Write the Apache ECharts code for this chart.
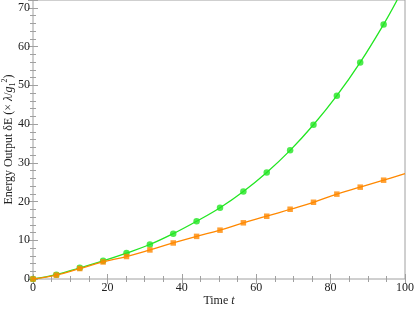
<!DOCTYPE html>
<html><head><meta charset="utf-8">
<script src="https://cdn.jsdelivr.net/npm/echarts@6/dist/echarts.min.js"></script>
<style>html,body{margin:0;padding:0;background:#fff}#c{width:415px;height:310px}</style>
</head><body><div id="c"></div>
<script>
// Data
const tValues = [0, 6.28, 12.57, 18.85, 25.13, 31.42, 37.70, 43.98, 50.27, 56.55, 62.83, 69.12, 75.40, 81.68, 87.96, 94.25];
const greenValues = [0, 1.1, 2.9, 4.7, 6.7, 8.9, 11.7, 14.9, 18.4, 22.6, 27.5, 33.2, 39.8, 47.3, 55.9, 65.7];
const orangeValues = [0, 1.0, 2.7, 4.4, 5.8, 7.5, 9.3, 11.0, 12.6, 14.5, 16.2, 18.0, 19.8, 21.9, 23.7, 25.5];
const greenCurveEnd = [97.9, 72];
const orangeCurveEnd = [100, 27.2];
const xTicks = [0, 20, 40, 60, 80, 100];
const yTicks = [0, 10, 20, 30, 40, 50, 60, 70];

const F = 'Liberation Serif';
const frameColor = '#a0a0a0';
const textColor = '#222';
const green = '#22e622';
const orange = '#ff8800';

const pts = (xs, ys) => xs.map((x, i) => [x, ys[i]]);
const greenPts = pts(tValues, greenValues);
const orangePts = pts(tValues, orangeValues);

function axisBase(min, max, interval, position, tickLen) {
  return {
    type: 'value', min: min, max: max, interval: interval, position: position,
    axisLine: { show: false },
    axisTick: { show: true, inside: true, length: tickLen, lineStyle: { color: frameColor, width: 1 } },
    axisLabel: { show: false },
    splitLine: { show: false }
  };
}

const xMain = axisBase(0, 100, 20, 'bottom', 5);
xMain.axisLabel = { show: true, margin: 3, fontFamily: F, fontSize: 12, color: textColor,
  formatter: v => (xTicks.indexOf(v) >= 0 ? String(v) : '') };
xMain.name = '{a|Time }{i|t}';
xMain.nameLocation = 'middle';
xMain.nameGap = 16;
xMain.nameMoveOverlap = false;
xMain.nameTextStyle = { rich: {
  a: { fontFamily: F, fontSize: 12, color: textColor },
  i: { fontFamily: F, fontSize: 12, fontStyle: 'italic', color: textColor }
}};

const yMain = axisBase(0, 72, 10, 'left', 5);
yMain.axisLabel = { show: true, margin: 3, fontFamily: F, fontSize: 12, color: textColor,
  formatter: v => (yTicks.indexOf(v) >= 0 ? String(v) : '') };
yMain.name = '{a|Energy Output δE (× }{i|λ}{a|/}{i|g}{sub|1}{sup|2}{a|)}';
yMain.nameLocation = 'middle';
yMain.nameGap = 16;
yMain.nameMoveOverlap = false;
yMain.nameTextStyle = { rich: {
  a: { fontFamily: F, fontSize: 12, color: textColor, lineHeight: 16 },
  i: { fontFamily: F, fontSize: 12, fontStyle: 'italic', color: textColor, lineHeight: 16 },
  sub: { fontFamily: F, fontSize: 8, color: textColor, verticalAlign: 'bottom', lineHeight: 16, padding: [4, 0, 0, 0] },
  sup: { fontFamily: F, fontSize: 8, color: textColor, verticalAlign: 'top', lineHeight: 16, padding: [0, 0, 6, 0] }
}};

const option = {
  animation: false,
  backgroundColor: '#fff',
  textStyle: { fontFamily: F },
  grid: { left: 33, right: 10, top: 0, bottom: 31, containLabel: false, outerBoundsMode: 'none',
    show: true, borderColor: frameColor, borderWidth: 1, backgroundColor: 'transparent' },
  xAxis: [
    xMain,
    axisBase(0, 100, 5, 'bottom', 3),
    axisBase(0, 100, 20, 'top', 5),
    axisBase(0, 100, 5, 'top', 3)
  ],
  yAxis: [
    yMain,
    axisBase(0, 72, 2, 'left', 3),
    axisBase(0, 72, 10, 'right', 5),
    axisBase(0, 72, 2, 'right', 3)
  ],
  series: [
    { type: 'line', xAxisIndex: 0, yAxisIndex: 0, data: greenPts.concat([greenCurveEnd]), smooth: 0.4, showSymbol: false,
      lineStyle: { color: green, width: 1.3 }, z: 2 },
    { type: 'scatter', xAxisIndex: 0, yAxisIndex: 0, data: greenPts, symbol: 'circle', symbolSize: 6.5,
      itemStyle: { color: green }, z: 3 },
    { type: 'line', xAxisIndex: 0, yAxisIndex: 0, data: orangePts.concat([orangeCurveEnd]), smooth: 0.4, showSymbol: false,
      lineStyle: { color: orange, width: 1.3 }, z: 4 },
    { type: 'scatter', xAxisIndex: 0, yAxisIndex: 0, data: orangePts, symbol: 'rect', symbolSize: 5.5,
      itemStyle: { color: orange }, z: 5 }
  ]
};
const chart = echarts.init(document.getElementById('c'), null, { renderer: 'canvas' });
chart.setOption(option);
</script></body></html>
